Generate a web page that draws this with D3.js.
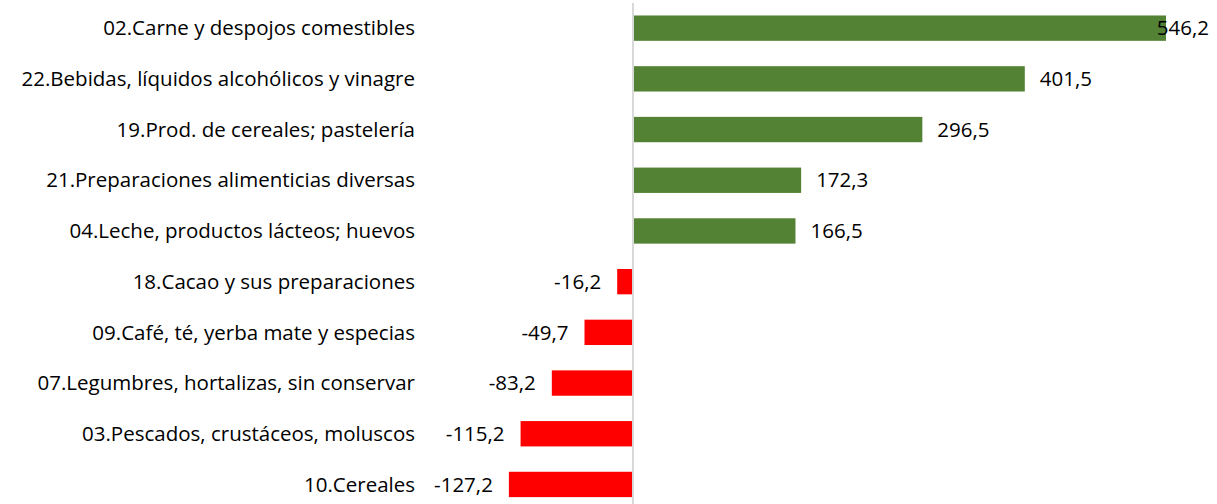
<!DOCTYPE html>
<html>
<head>
<meta charset="utf-8">
<script src="https://cdn.jsdelivr.net/npm/d3@7"></script>
<style>
  html, body { margin: 0; padding: 0; background: #fff; }
  svg { display: block; }
  text { font-family: "Open Sans", "Liberation Sans", Arial, sans-serif; fill: #000; }
</style>
</head>
<body>
<svg id="chart" width="1217" height="504"></svg>
<script>
// Chapters of the tariff nomenclature and their variation
const categories = [
  "02.Carne y despojos comestibles",
  "22.Bebidas, líquidos alcohólicos y vinagre",
  "19.Prod. de cereales; pastelería",
  "21.Preparaciones alimenticias diversas",
  "04.Leche, productos lácteos; huevos",
  "18.Cacao y sus preparaciones",
  "09.Café, té, yerba mate y especias",
  "07.Legumbres, hortalizas, sin conservar",
  "03.Pescados, crustáceos, moluscos",
  "10.Cereales"
];
const values = [546.2, 401.5, 296.5, 172.3, 166.5, -16.2, -49.7, -83.2, -115.2, -127.2];
const valueLabels = ["546,2", "401,5", "296,5", "172,3", "166,5", "-16,2", "-49,7", "-83,2", "-115,2", "-127,2"];

const W = 1217, H = 504;
const svg = d3.select("#chart");
const fontSize = 20.5;

const x = d3.scaleLinear().domain([0, 546.2]).range([633, 1166]);
const y = d3.scaleBand()
  .domain(categories)
  .range([2.8, 509.8])
  .paddingInner(0.5)
  .paddingOuter(0.25);

const rows = categories.map((c, i) => ({ cat: c, v: values[i], label: valueLabels[i] }));

// bars
svg.append("g").selectAll("rect").data(rows).join("rect")
  .attr("x", d => Math.min(x(0), x(d.v)))
  .attr("y", d => y(d.cat))
  .attr("width", d => Math.abs(x(d.v) - x(0)))
  .attr("height", y.bandwidth())
  .attr("fill", d => d.v >= 0 ? "#548235" : "#ff0000");

// zero axis
svg.append("line")
  .attr("x1", x(0)).attr("x2", x(0))
  .attr("y1", 3).attr("y2", H)
  .attr("stroke", "#d9d9d9").attr("stroke-width", 2);

// category labels
svg.append("g").selectAll("text").data(rows).join("text")
  .attr("x", 415)
  .attr("y", d => y(d.cat) + y.bandwidth() / 2)
  .attr("dy", "0.35em")
  .attr("text-anchor", "end")
  .attr("font-size", fontSize)
  .text(d => d.cat);

// value labels
const vl = svg.append("g").selectAll("text").data(rows).join("text")
  .attr("y", d => y(d.cat) + y.bandwidth() / 2)
  .attr("dy", "0.35em")
  .attr("font-size", fontSize)
  .attr("text-anchor", d => d.v >= 0 ? "start" : "end")
  .text(d => d.label);

// positive labels sit right of the bar but stay inside the plot area
vl.each(function(d) {
  const t = d3.select(this);
  if (d.v >= 0) {
    const w = this.getComputedTextLength();
    t.attr("x", Math.min(x(d.v) + 15, W - 8 - w));
  } else {
    t.attr("x", x(d.v) - 16);
  }
});
</script>
</body>
</html>
